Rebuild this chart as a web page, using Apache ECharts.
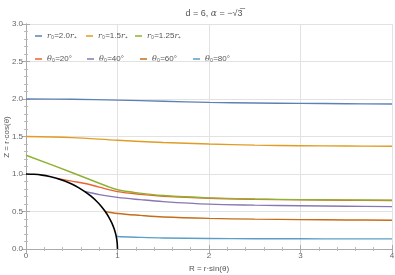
<!DOCTYPE html>
<html><head><meta charset="utf-8">
<script src="https://cdn.jsdelivr.net/npm/echarts@6/dist/echarts.min.js"></script>
<style>html,body{margin:0;padding:0;background:#fff}#c{width:395px;height:275px}</style>
</head><body><div id="c"></div>
<script>
var xTicks = [0, 1, 2, 3, 4];
var yTicks = ['0.0', '0.5', '1.0', '1.5', '2.0', '2.5', '3.0'];
var names = ['r0=2.0', 'r0=1.5', 'r0=1.25', 't20', 't40', 't60', 't80'];
var labels = ['{i|r}₀=2.0{i|r}₊', '{i|r}₀=1.5{i|r}₊', '{i|r}₀=1.25{i|r}₊',
  '{i|θ}₀=20°', '{i|θ}₀=40°', '{i|θ}₀=60°', '{i|θ}₀=80°'];
var colors = ['#5E81B5', '#E19C24', '#8FB032', '#EB6235', '#8778B3', '#C56E1A', '#5D9EC7'];

var r20 = [[0,2.0],[0.5,1.997],[1,1.985],[1.5,1.97],[2,1.955],[2.5,1.947],[3,1.942],[3.5,1.937],[4,1.933]];
var r15 = [[0,1.5],[0.5,1.485],[1,1.45],[1.5,1.42],[2,1.4],[2.5,1.385],[3,1.377],[3.5,1.373],[4,1.37]];
var r125 = [[0,1.25],[0.5,1.02],[0.9,0.83],[1,0.79],[1.2,0.752],[1.5,0.714],[2,0.682],[2.5,0.667],[3,0.659],[3.5,0.655],[4,0.652]];
var t20 = [[0.342,0.94],[0.5,0.905],[0.66,0.87],[0.8,0.825],[1,0.765],[1.25,0.728],[1.5,0.704],[2,0.677],[2.5,0.663],[3,0.655],[3.5,0.65],[4,0.646]];
var t40 = [[0.643,0.766],[0.8,0.725],[1,0.688],[1.25,0.658],[1.5,0.632],[2,0.598],[2.5,0.585],[3,0.577],[3.5,0.57],[4,0.565]];
var t60 = [[0.866,0.5],[1,0.474],[1.25,0.448],[1.5,0.427],[2,0.408],[2.5,0.398],[3,0.392],[3.5,0.387],[4,0.384]];
var t80 = [[0.985,0.174],[1,0.166],[1.25,0.155],[1.5,0.147],[2,0.14],[2.5,0.137],[3,0.136],[3.5,0.135],[4,0.135]];
var horizon = [[0,1],[0.087,0.996],[0.174,0.985],[0.259,0.966],[0.342,0.94],[0.423,0.906],[0.5,0.866],[0.574,0.819],
  [0.643,0.766],[0.707,0.707],[0.766,0.643],[0.819,0.574],[0.866,0.5],[0.906,0.423],[0.94,0.342],[0.966,0.259],
  [0.985,0.174],[0.996,0.087],[1,0]];
var seriesData = [r20, r15, r125, t20, t40, t60, t80];

var chart = echarts.init(document.getElementById('c'));
var rich = {i: {fontStyle: 'italic', fontSize: 8, color: '#555', fontFamily: 'DejaVu Serif'}};
var legendPos = [[35,32],[86,32],[135,32],[35,55],[87,55],[140,55],[193,55]];
var legends = names.map(function (n, k) {
  return {
    data: [n], left: legendPos[k][0], top: legendPos[k][1], padding: 0, itemWidth: 7, itemHeight: 1.5, itemGap: 0,
    icon: 'rect', selectedMode: false,
    textStyle: {fontSize: 8, color: '#555', rich: rich},
    formatter: function () { return labels[k]; }
  };
});
var series = seriesData.map(function (d, k) {
  return {
    name: names[k], type: 'line', data: d, smooth: 0.35, showSymbol: false,
    lineStyle: {color: colors[k], width: 1.4}, itemStyle: {color: colors[k]}, z: 3 + (7 - k)
  };
});
series.push({name: 'horizon', type: 'line', data: horizon, smooth: 0.3, showSymbol: false,
  lineStyle: {color: '#000', width: 1.6}, itemStyle: {color: '#000'}, z: 20});

var axisCommon = {
  axisLine: {show: true, lineStyle: {color: '#aaa', width: 1}},
  axisTick: {show: true, inside: true, length: 4, lineStyle: {color: '#aaa'}},
  minorTick: {show: true, splitNumber: 5, length: 2, lineStyle: {color: '#bbb'}}
};
chart.setOption({
  animation: false,
  title: {text: 'd = 6, {i|α} = −√3̅', left: 209, top: 4, textAlign: 'center',
    textStyle: {fontSize: 9, color: '#555', fontWeight: 'normal',
      rich: {i: {fontStyle: 'italic', fontSize: 9, color: '#555', fontFamily: 'DejaVu Serif'}}}},
  legend: legends,
  graphic: [{type: 'text', x: 3, y: 137, rotation: Math.PI / 2,
    style: {text: 'Z = r·cos(θ)', fontSize: 8, fill: '#555', align: 'center', verticalAlign: 'top'}}],
  grid: {left: 26, right: 3, top: 24, bottom: 26, containLabel: false, outerBoundsMode: 'none'},
  xAxis: [
    Object.assign({type: 'value', min: 0, max: 4, interval: 1, position: 'bottom',
      name: 'R = r·sin(θ)', nameLocation: 'middle', nameGap: 12,
      nameTextStyle: {fontSize: 8, color: '#555'},
      axisLabel: {fontSize: 8, color: '#666', margin: 3, formatter: function (v) { return String(xTicks[Math.round(v)]); }},
      splitLine: {show: true, lineStyle: {color: '#e2e2e2', width: 1}}}, axisCommon),
    Object.assign({type: 'value', min: 0, max: 4, interval: 1, position: 'top',
      axisLabel: {show: false}, splitLine: {show: false}}, axisCommon)
  ],
  yAxis: [
    Object.assign({type: 'value', min: 0, max: 3, interval: 0.5, position: 'left',
      axisLabel: {fontSize: 8, color: '#666', margin: 3, formatter: function (v) { return yTicks[Math.round(v * 2)]; }},
      splitLine: {show: true, lineStyle: {color: '#e2e2e2', width: 1}}}, axisCommon),
    Object.assign({type: 'value', min: 0, max: 3, interval: 0.5, position: 'right',
      axisLabel: {show: false}, splitLine: {show: false}}, axisCommon)
  ],
  series: series
});
</script></body></html>
